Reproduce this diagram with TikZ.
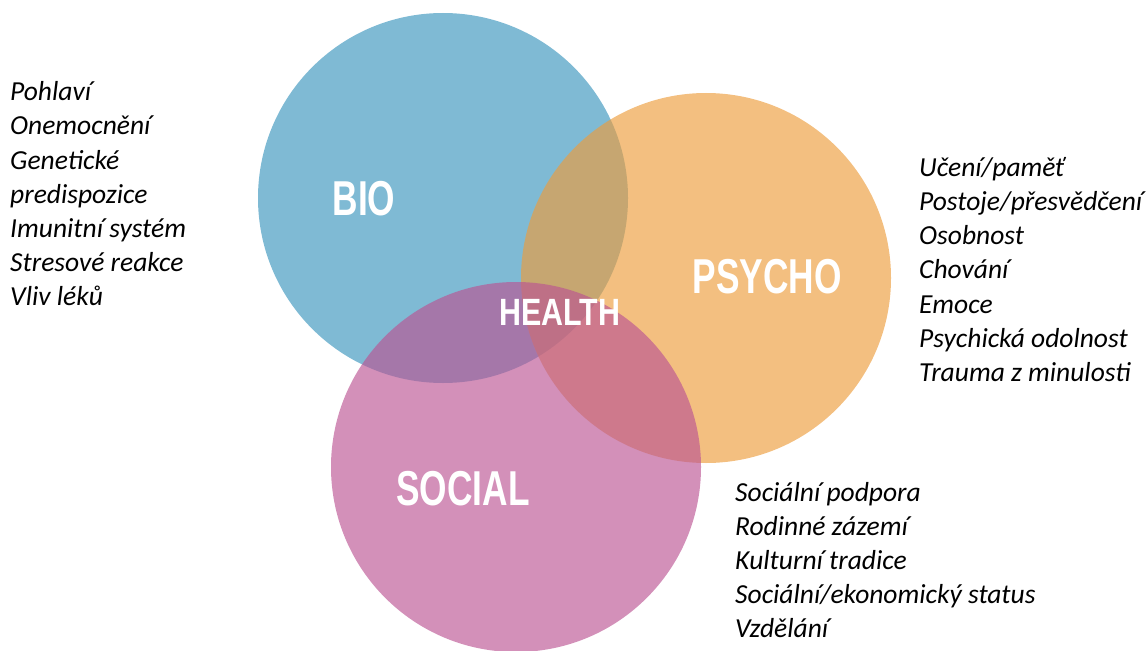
\documentclass[tikz,border=0pt]{standalone}
\usepackage{fontspec}
\setmainfont{Carlito}
\newfontfamily\lblfont[FakeStretch=0.72]{Liberation Sans}
\newfontfamily\hlthfont[FakeStretch=0.8]{Liberation Sans}
\definecolor{bioC}{RGB}{58,149,189}
\definecolor{psyC}{RGB}{237,157,60}
\definecolor{socC}{RGB}{187,84,147}
\begin{document}
\begin{tikzpicture}[x=1pt,y=-1pt,
  blob/.style={circle,draw=none,inner sep=0pt,minimum size=370pt,fill opacity=0.65},
  biglabel/.style={text=white,inner sep=0pt,anchor=base,font=\lblfont\bfseries\fontsize{49}{49}\selectfont},
  item/.style={inner sep=0pt,anchor=base west,font=\fontsize{27.5}{27.5}\selectfont\itshape}]
\useasboundingbox (0,0) rectangle (1147,650);
\begin{scope}
\clip (0,0) rectangle (1147,650);
\node[blob,fill=bioC] (bio) at (443,198) {};
\node[blob,fill=psyC] (psy) at (706,278) {};
\node[blob,fill=socC] (soc) at (516,467) {};
\end{scope}
\node[biglabel] (lbio) at (364,215) {BIO};
\node[biglabel] (lpsy) at (767,293) {PSYCHO};
\node[biglabel] (lsoc) at (463,505) {SOCIAL};
\node[biglabel,font=\hlthfont\bfseries\fontsize{38}{38}\selectfont] (lhealth) at (560,325) {HEALTH};
\foreach \t [count=\i] in {Pohlaví,Onemocnění,Genetické,predispozice,Imunitní systém,Stresové reakce,Vliv léků}
  \node[item] (b\i) at (10,{101+(\i-1)*34}) {\t};
\foreach \t [count=\i] in {Učení/paměť,Postoje/přesvědčení,Osobnost,Chování,Emoce,Psychická odolnost,Trauma z minulosti}
  \node[item] (p\i) at (919,{176+(\i-1)*34.3}) {\t};
\foreach \t [count=\i] in {Sociální podpora,Rodinné zázemí,Kulturní tradice,Sociální/ekonomický status,Vzdělání}
  \node[item] (s\i) at (735,{501+(\i-1)*34}) {\t};
\end{tikzpicture}
\end{document}
